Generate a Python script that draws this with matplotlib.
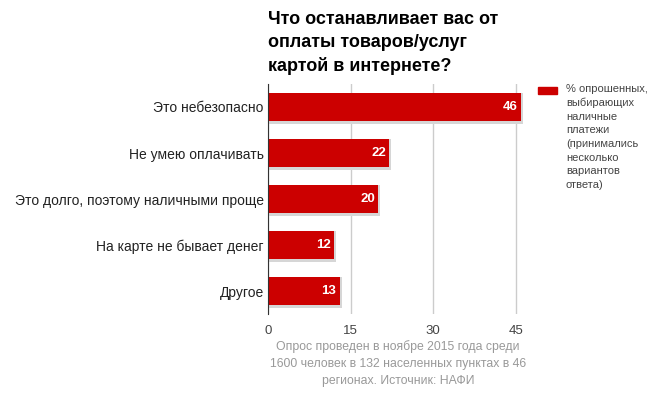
import matplotlib.pyplot as plt

plt.rcParams['font.family'] = ['Liberation Sans', 'DejaVu Sans']

# Данные
categories = ["Это небезопасно", "Не умею оплачивать",
              "Это долго, поэтому наличными проще",
              "На карте не бывает денег", "Другое"]
values = [46, 22, 20, 12, 13]
ticks = [0, 15, 30, 45]

title = "Что останавливает вас от\nоплаты товаров/услуг\nкартой в интернете?"
legend_text = ("% опрошенных,\nвыбирающих\nналичные\nплатежи\n"
               "(принимались\nнесколько\nвариантов\nответа)")
note = ("Опрос проведен в ноябре 2015 года среди\n"
        "1600 человек в 132 населенных пунктах в 46\n"
        "регионах. Источник: НАФИ")

fig = plt.figure(figsize=(6.6, 3.99), dpi=100)
ax = fig.add_axes([268 / 660, 1 - 314 / 399, 260 / 660, 230 / 399])

pos = list(range(len(categories)))
# тень вокруг столбцов
ax.barh([p + 0.03 for p in pos], [v + 0.35 for v in values], height=0.67,
        color='#d6d6d6', zorder=2)
ax.barh(pos, values, height=0.62, color='#cc0000', zorder=3)
for p, v in zip(pos, values):
    ax.text(v - 0.6, p, str(v), ha='right', va='center', color='white',
            fontsize=9.5, fontweight='bold', zorder=4)

ax.set_ylim(len(categories) - 0.5, -0.5)
ax.set_xlim(0, 47.2)
ax.set_yticks(pos)
ax.set_yticklabels(categories, fontsize=10, color='#222222')
ax.set_xticks(ticks)
ax.set_xticklabels([str(t) for t in ticks], fontsize=9.5, color='#444444')
ax.tick_params(axis='y', length=0, pad=3)
ax.tick_params(axis='x', length=0, pad=8)
ax.grid(axis='x', color='#cccccc', linewidth=1, zorder=0)
for s in ['top', 'right', 'bottom']:
    ax.spines[s].set_visible(False)
ax.spines['left'].set_color('#333333')
ax.spines['left'].set_zorder(5)

fig.text(268 / 660, 1 - 11 / 399, title, ha='left', va='top', fontsize=13,
         fontweight='bold', color='#000000', linespacing=1.45)

fig.patches.append(plt.Rectangle((538 / 660, 1 - 94 / 399), 19 / 660, 7 / 399,
                                 transform=fig.transFigure, color='#cc0000'))
fig.text(566 / 660, 1 - 84 / 399, legend_text, ha='left', va='top',
         fontsize=8, color='#444444', linespacing=1.45)

fig.text(398 / 660, 1 - 340 / 399, note, ha='center', va='top', fontsize=8.8,
         color='#999999', linespacing=1.55)

plt.savefig('out.png', dpi=100)
